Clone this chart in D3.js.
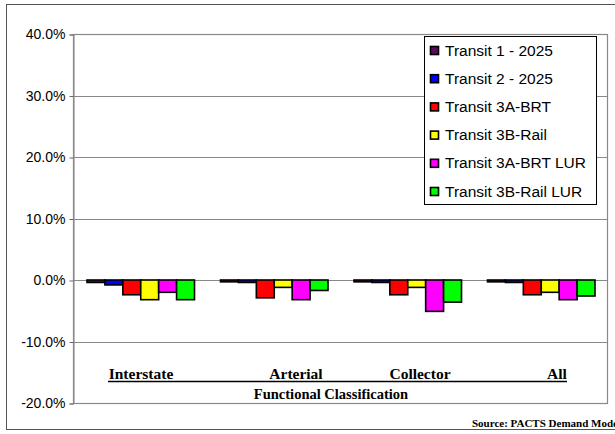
<!DOCTYPE html>
<html><head><meta charset="utf-8">
<script src="https://cdn.jsdelivr.net/npm/d3@7"></script>
<style>body{margin:0;background:#fff}svg{display:block}</style>
</head><body><svg id="c" width="615" height="434"></svg>
<script>
const categories = ["Interstate", "Arterial", "Collector", "All"];
const seriesNames = ["Transit 1 - 2025", "Transit 2 - 2025", "Transit 3A-BRT", "Transit 3B-Rail", "Transit 3A-BRT LUR", "Transit 3B-Rail LUR"];
const seriesColors = ["#5c0a5c", "#0000ff", "#ff0000", "#ffff00", "#ff00ff", "#00ff00"];
const transit1 = [-0.4, -0.3, -0.3, -0.3];
const transit2 = [-0.8, -0.4, -0.4, -0.4];
const transit3A = [-2.4, -2.9, -2.4, -2.4];
const transit3B = [-3.2, -1.2, -1.2, -2.0];
const transit3ALUR = [-2.0, -3.2, -5.1, -3.2];
const transit3BLUR = [-3.2, -1.7, -3.6, -2.6];
const seriesValues = [transit1, transit2, transit3A, transit3B, transit3ALUR, transit3BLUR];
const yTicks = [40, 30, 20, 10, 0, -10, -20];

const svg = d3.select("#c");
const L = 73, R = 607, T = 34, B = 403;

// outer frame
svg.append("rect").attr("x", 6.5).attr("y", 4.5).attr("width", 640).attr("height", 425)
  .attr("fill", "none").attr("stroke", "#555").attr("stroke-width", 1);

// title (mostly cut off at the top edge, as in the reference)
svg.append("text").attr("x", 378).attr("y", -4).attr("text-anchor", "end")
  .attr("font-family", "Liberation Sans, Arial, sans-serif").attr("font-weight", "bold")
  .attr("font-size", 15).text("Percent VMT Change");

const y = d3.scaleLinear().domain([-20, 40]).range([B, T]);
const x0 = d3.scaleBand().domain(categories).range([L, R]).padding(0);
const x1 = d3.scaleBand().domain(d3.range(seriesNames.length)).range([14, x0.bandwidth() - 12]).padding(0);

// gridlines
svg.append("g").selectAll("line").data(yTicks).join("line")
  .attr("x1", L).attr("x2", R).attr("y1", d => Math.round(y(d)) + 0.5).attr("y2", d => Math.round(y(d)) + 0.5)
  .attr("stroke", "#888").attr("stroke-width", 1);

// plot border
svg.append("rect").attr("x", L + 0.5).attr("y", Math.round(T) + 0.5).attr("width", R - L).attr("height", Math.round(B) - Math.round(T))
  .attr("fill", "none").attr("stroke", "#888").attr("stroke-width", 1.2);

// y axis
const yAxis = d3.axisLeft(y).tickValues(yTicks).tickSize(4).tickPadding(4).tickFormat(d => d.toFixed(1) + "%");
const ga = svg.append("g").attr("transform", `translate(${L + 0.5},0.5)`).call(yAxis);
ga.select(".domain").attr("stroke", "#888");
ga.selectAll(".tick line").attr("stroke", "#666");
ga.selectAll(".tick text").attr("font-family", "Liberation Sans, Arial, sans-serif").attr("font-size", 14).attr("fill", "#000");

// bars
const rows = [];
categories.forEach((c, ci) => seriesValues.forEach((vals, si) => rows.push({c, si, v: vals[ci]})));
svg.append("g").selectAll("rect").data(rows).join("rect")
  .attr("x", d => x0(d.c) + x1(d.si))
  .attr("width", x1.bandwidth())
  .attr("y", d => y(Math.max(0, d.v)))
  .attr("height", d => Math.abs(y(d.v) - y(0)))
  .attr("fill", d => seriesColors[d.si])
  .attr("stroke", "#000").attr("stroke-width", 1.6);

// category labels (table-like under axis)
const labelX = [141, 296, 420, 557];
svg.append("g").selectAll("text").data(categories).join("text")
  .attr("x", (d, i) => labelX[i]).attr("y", 379).attr("text-anchor", "middle")
  .attr("font-family", "Liberation Serif, Times New Roman, serif").attr("font-weight", "bold").attr("font-size", 15.5)
  .text(d => d);
svg.append("line").attr("x1", 108).attr("x2", 567).attr("y1", 381.5).attr("y2", 381.5).attr("stroke", "#000").attr("stroke-width", 1.6);
svg.append("text").attr("x", 331).attr("y", 399).attr("text-anchor", "middle")
  .attr("font-family", "Liberation Serif, Times New Roman, serif").attr("font-weight", "bold").attr("font-size", 14.5)
  .text("Functional Classification");

// source (cut at the right edge, as in the reference)
svg.append("text").attr("x", 621).attr("y", 427).attr("text-anchor", "end")
  .attr("font-family", "Liberation Serif, Times New Roman, serif").attr("font-weight", "bold").attr("font-size", 11)
  .text("Source:  PACTS Demand Model");

// legend
const lg = svg.append("g");
lg.append("rect").attr("x", 424.5).attr("y", 36.5).attr("width", 172).attr("height", 168)
  .attr("fill", "#fff").attr("stroke", "#000").attr("stroke-width", 1);
const items = lg.selectAll("g").data(seriesNames).join("g")
  .attr("transform", (d, i) => `translate(0,${50 + i * 28.2})`);
items.append("rect").attr("x", 430.5).attr("y", -3.5).attr("width", 8).attr("height", 8)
  .attr("fill", (d, i) => seriesColors[i]).attr("stroke", "#000").attr("stroke-width", 1.6);
items.append("text").attr("x", 445).attr("y", 5.5).attr("font-family", "Liberation Sans, Arial, sans-serif")
  .attr("font-size", 15.5).text(d => d);
</script></body></html>
